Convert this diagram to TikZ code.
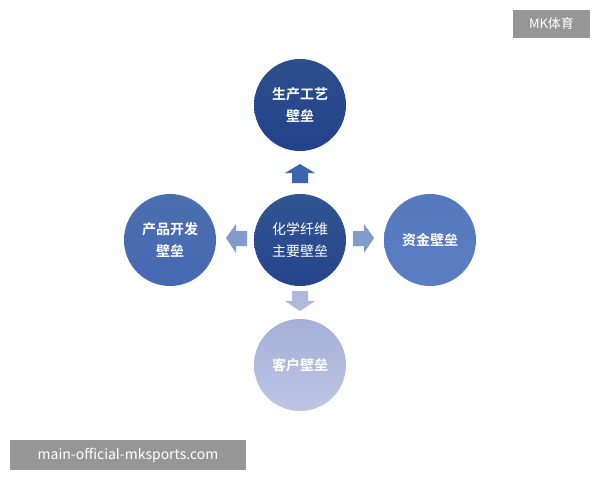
\documentclass[tikz,border=0pt]{standalone}
\usepackage{fontspec}
\newfontfamily\cjk{Noto Sans CJK SC}
\newfontfamily\cjkb{Noto Sans CJK SC Bold}
\definecolor{t1}{RGB}{45,80,140}
\definecolor{t2}{RGB}{35,65,140}
\definecolor{c1}{RGB}{48,85,145}
\definecolor{c2}{RGB}{38,68,140}
\definecolor{l1}{RGB}{75,110,175}
\definecolor{l2}{RGB}{70,105,180}
\definecolor{r1}{RGB}{85,120,190}
\definecolor{r2}{RGB}{90,125,195}
\definecolor{b1}{RGB}{165,175,215}
\definecolor{b2}{RGB}{190,198,228}
\definecolor{au}{RGB}{60,100,175}
\definecolor{alr}{RGB}{130,155,205}
\definecolor{ad}{RGB}{175,185,220}
\definecolor{wm}{RGB}{150,150,150}
\begin{document}
\begin{tikzpicture}[x=1pt,y=-1pt,
  circ/.style={circle,minimum size=92pt,inner sep=0pt,text=white,align=center,font=\cjkb\fontsize{14}{22}\selectfont}]
\useasboundingbox (0,0) rectangle (600,480);
\fill[white] (0,0) rectangle (600,480);
\node[circ,top color=t1,bottom color=t2] (top) at (300,105) {生产工艺\\壁垒};
\node[circ,top color=c1,bottom color=c2,font=\cjk\fontsize{14}{22}\selectfont] (c) at (300,240) {化学纤维\\主要壁垒};
\node[circ,top color=l1,bottom color=l2] (l) at (170,240) {产品开发\\壁垒};
\node[circ,top color=r1,bottom color=r2] (r) at (430,240) {资金壁垒};
\node[circ,top color=b1,bottom color=b2] (b) at (300,365) {客户壁垒};
% arrows
\fill[au] (292,183)--(292,173)--(285,173)--(300,164)--(315,173)--(308,173)--(308,183)--cycle;
\fill[alr] (247,231)--(236,231)--(236,224)--(226,238)--(236,253)--(236,246)--(247,246)--cycle;
\fill[alr] (353,231)--(364,231)--(364,224)--(374,238)--(364,253)--(364,246)--(353,246)--cycle;
\fill[ad] (292,291)--(308,291)--(308,301)--(315,301)--(300,311)--(285,301)--(292,301)--cycle;
% watermarks
\node[fill=wm,text=white,minimum width=77pt,minimum height=28pt,inner sep=0pt,font=\cjk\fontsize{13}{13}\selectfont] (wm1) at (551.5,24) {MK体育};
\node[fill=wm,text=white,minimum width=236pt,minimum height=30pt,inner sep=0pt,font=\cjk\fontsize{14}{14}\selectfont] (wm2) at (128,455) {main-official-mksports.com};
\end{tikzpicture}
\end{document}
